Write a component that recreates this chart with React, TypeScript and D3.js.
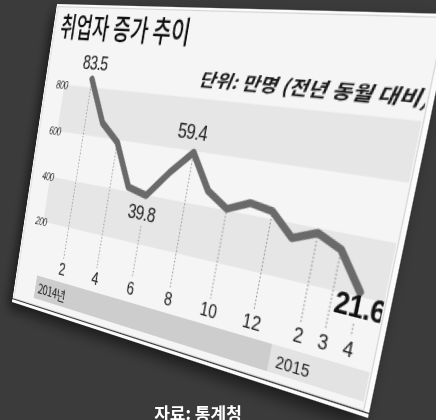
import React from "react";
import * as d3 from "d3";

// ---- data (만명, 전년 동월 대비) ----
const months = ["2", "3", "4", "5", "6", "7", "8", "9", "10", "11", "12", "1", "2", "3", "4"];
const years = ["2014", "2014", "2014", "2014", "2014", "2014", "2014", "2014", "2014", "2014", "2014", "2015", "2015", "2015", "2015"];
const values = [83.5, 66.0, 59.0, 41.8, 39.8, 50.4, 59.4, 46.0, 40.6, 44.3, 42.8, 34.8, 38.3, 34.3, 21.6];
const tickIndex = [0, 2, 4, 6, 8, 10, 12, 13, 14];
const yTicks = [800, 600, 400, 200];
const yBands = [[800, 600], [400, 200]];

// ---- layout of the flat sheet and its photographed position ----
const W = 400, H = 300;
const corners: number[][] = [[57, 4], [452, 14], [368, 418], [12, 302]];

function solve(A: number[][], b: number[]) {
  const n = b.length;
  const M = A.map((r, i) => [...r, b[i]]);
  for (let c = 0; c < n; c++) {
    let p = c;
    for (let r = c + 1; r < n; r++) if (Math.abs(M[r][c]) > Math.abs(M[p][c])) p = r;
    [M[c], M[p]] = [M[p], M[c]];
    for (let r = 0; r < n; r++) {
      if (r === c) continue;
      const f = M[r][c] / M[c][c];
      for (let k = c; k <= n; k++) M[r][k] -= f * M[c][k];
    }
  }
  return M.map((r, i) => r[n] / r[i]);
}
function homography(src: number[][], dst: number[][]) {
  const A: number[][] = [], b: number[] = [];
  for (let i = 0; i < 4; i++) {
    const [x, y] = src[i], [X, Y] = dst[i];
    A.push([x, y, 1, 0, 0, 0, -x * X, -y * X]); b.push(X);
    A.push([0, 0, 0, x, y, 1, -x * Y, -y * Y]); b.push(Y);
  }
  const h = solve(A, b);
  return [[h[0], h[1], h[2]], [h[3], h[4], h[5]], [h[6], h[7], 1]];
}
const Hm = homography([[0, 0], [W, 0], [W, H], [0, H]], corners);
const css = `matrix3d(${Hm[0][0]},${Hm[1][0]},0,${Hm[2][0]},${Hm[0][1]},${Hm[1][1]},0,${Hm[2][1]},0,0,1,0,${Hm[0][2]},${Hm[1][2]},0,${Hm[2][2]})`;

const num = "'Liberation Sans', Arial, sans-serif";
const kr = "'Noto Sans CJK KR', sans-serif";

export default function App() {
  const x = d3.scalePoint<number>().domain(d3.range(values.length)).range([62.4, 373.3]);
  const y = d3.scaleLinear().domain([0, 80]).range([257, 76.7]);
  const yAxis = d3.scaleLinear().domain([0, 800]).range([257, 76.7]);
  const line = d3.line<number>().x((_, i) => x(i)!).y((d) => y(d));
  const clipR = 394;
  const tickBase = 259;
  const barTop = 266, barBot = 289;
  const split = (x(10)! + x(11)!) / 2 + 12;

  const dotStart = (i: number) => {
    if (i === 4) return y(values[i]) + 28;
    if (i === 14) return y(values[i]) + 25;
    return y(values[i]) + 3;
  };

  return (
    <div style={{ position: "fixed", left: 0, top: 0, width: 436, height: 420, overflow: "hidden", background: "#3b3b3b" }}>
      <div style={{ position: "absolute", left: 0, top: 0, width: W, height: H, transformOrigin: "0 0", transform: css, filter: "drop-shadow(-5px 7px 7px rgba(0,0,0,0.55))" }}>
        <svg width={W} height={H} style={{ display: "block" }}>
          <defs>
            <clipPath id="c"><rect x={0} y={0} width={clipR} height={H} /></clipPath>
          </defs>
          <rect width={W} height={H} fill="#fbfbfb" />
          <rect x={2} y={2.5} width={clipR + 1.5 - 2} height={H - 7} fill="#f5f5f5" stroke="#d6d6d6" strokeWidth={1} />
          <line x1={0} x2={W} y1={H - 3.5} y2={H - 3.5} stroke="#333" strokeWidth={1.2} />
          <g clipPath="url(#c)">
            {yBands.map(([a, b]) => (
              <rect key={a} x={27} y={yAxis(a)} width={clipR - 27} height={yAxis(b) - yAxis(a)} fill="#e6e6e6" />
            ))}
            {yTicks.map((t) => (
              <text key={t} x={16} y={yAxis(t) + 4} fontFamily={num} fontStyle="italic" fontSize={10.5} fill="#333" letterSpacing={-0.6}>{t}</text>
            ))}
            {tickIndex.map((i) => (
              <line key={"d" + i} x1={x(i)} x2={x(i)} y1={dotStart(i)} y2={tickBase - 16} stroke="#8a8a8a" strokeWidth={1} strokeDasharray="1.4 1.8" />
            ))}
            <path d={line(values)!} fill="none" stroke="#6a6a6a" strokeWidth={6.5} strokeLinejoin="round" strokeLinecap="round" />
            {tickIndex.map((i) => (
              <text key={"t" + i} x={x(i)} y={tickBase} textAnchor="middle" fontFamily={num} fontSize={16} fill="#222">{months[i]}</text>
            ))}
            <text x={x(0)! + 1} y={y(values[0]) - 9} textAnchor="middle" fontFamily={num} fontSize={18} fill="#222" letterSpacing={-0.8}>{values[0].toFixed(1)}</text>
            <text x={x(6)! - 5} y={y(values[6]) - 11} textAnchor="middle" fontFamily={num} fontSize={18} fill="#222" letterSpacing={-0.8}>{values[6].toFixed(1)}</text>
            <text x={x(4)! - 2} y={y(values[4]) + 23} textAnchor="middle" fontFamily={num} fontSize={18} fill="#222" letterSpacing={-0.8}>{values[4].toFixed(1)}</text>
            <text x={x(14)! - 19} y={y(values[14]) + 20} fontFamily={num} fontSize={23} fontWeight="bold" fill="#111" letterSpacing={-0.6}>{values[14].toFixed(1)}</text>
            <rect x={30} y={barTop} width={split - 30} height={barBot - barTop} fill="#cdcdcd" />
            <rect x={split} y={barTop} width={clipR - split} height={barBot - barTop} fill="#e3e3e3" />
            <text x={34} y={barBot - 6} fontFamily={kr} fontSize={13} fill="#222" letterSpacing={-0.6}>{years[0]}년</text>
            <text x={split + 6} y={barBot - 5} fontFamily={num} fontSize={14} fill="#222">{years[14]}</text>
            <text x={10} y={31.5} fontFamily={kr} fontSize={26.5} fontWeight={500} fill="#111" textLength={160} lengthAdjust="spacingAndGlyphs">취업자 증가 추이</text>
            <text x={397} y={66.5} textAnchor="end" fontFamily={kr} fontStyle="italic" fontWeight={700} fontSize={15.5} fill="#1a1a1a" textLength={209} lengthAdjust="spacingAndGlyphs">단위: 만명 (전년 동월 대비)</text>
          </g>
        </svg>
      </div>
      <svg width={436} height={420} style={{ position: "absolute", left: 0, top: 0 }}>
        <text x={198} y={420} textAnchor="middle" fontFamily={kr} fontWeight={700} fontSize={17} fill="#fff">자료: 통계청</text>
      </svg>
    </div>
  );
}
